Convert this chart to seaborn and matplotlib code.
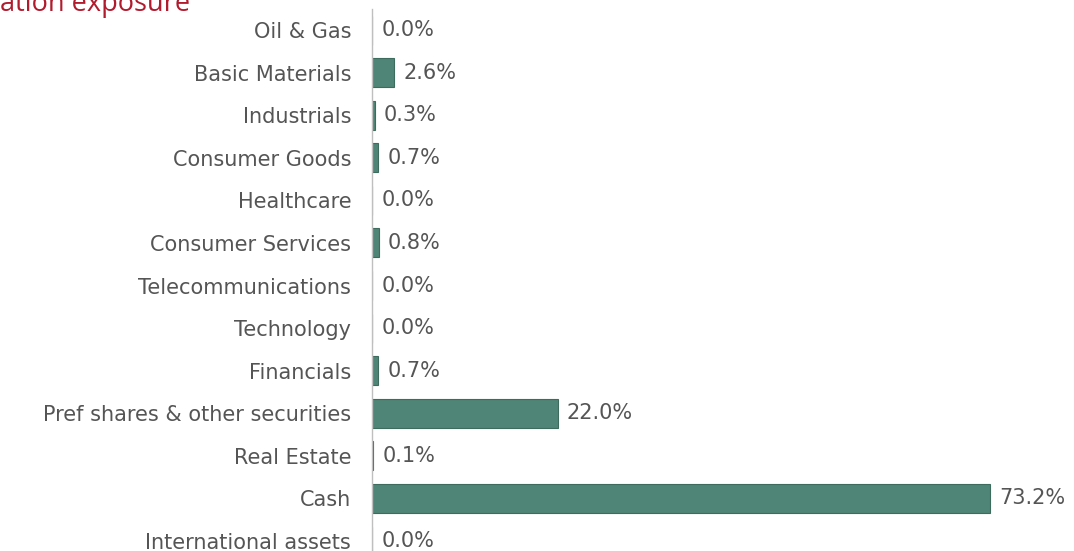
import matplotlib
matplotlib.use("Agg")
import matplotlib.pyplot as plt
import seaborn as sns
import pandas as pd

sectors = ["Oil & Gas", "Basic Materials", "Industrials", "Consumer Goods",
           "Healthcare", "Consumer Services", "Telecommunications", "Technology",
           "Financials", "Pref shares & other securities", "Real Estate", "Cash",
           "International assets"]
weights = [0.0, 2.6, 0.3, 0.7, 0.0, 0.8, 0.0, 0.0, 0.7, 22.0, 0.1, 73.2, 0.0]
title = "ation exposure"

df = pd.DataFrame({"Sector": sectors, "Weight": weights})

sns.set_style("white")
plt.rcParams["font.family"] = ["DejaVu Sans"]

TEXT = "#555555"
BAR = "#4f8576"

fig = plt.figure(figsize=(10.74, 5.51), dpi=100)
ax = fig.add_axes([372 / 1074, -0.0205, 675 / 1074, 1.0046])

sns.barplot(data=df, x="Weight", y="Sector", orient="h", ax=ax,
            color=BAR, edgecolor="#3d6b5e", linewidth=0.8, width=0.68,
            saturation=1)

# value labels just past the end of each bar
for i, v in enumerate(weights):
    ax.text(v + 1.1, i, f"{v:.1f}%", va="center", ha="left",
            fontsize=15, color=TEXT)

ax.set_xlim(0, 80)
ax.set_ylim(12.5, -0.5)
ax.set_xlabel("")
ax.set_ylabel("")
ax.set_xticks([])
ax.tick_params(axis="y", length=0, pad=15, labelsize=15, labelcolor=TEXT)
for s in ["top", "right", "bottom"]:
    ax.spines[s].set_visible(False)
ax.spines["left"].set_color("#bfbfbf")
ax.spines["left"].set_linewidth(1)

# heading is clipped by the top-left corner in the source image
fig.text(0.0, 1 - 11 / 551, title, ha="left", va="baseline",
         fontsize=19.5, color="#b01c2e", family=["Open Sans", "DejaVu Sans"])

fig.savefig("out.png", dpi=100)
